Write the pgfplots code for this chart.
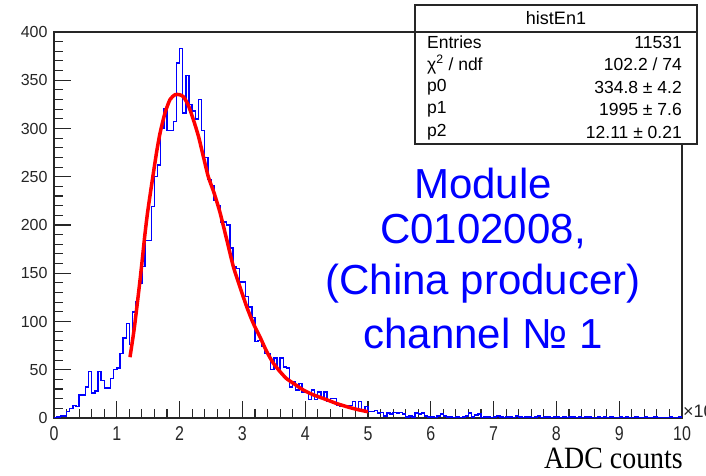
\documentclass[border=0pt]{standalone}
\usepackage{pgfplots}
\pgfplotsset{compat=1.18}
\usepackage{fontspec}
\setmainfont{Liberation Sans}
\newfontfamily\serifA[FakeStretch=0.9]{Liberation Serif}
\newfontfamily\narrowA[FakeStretch=0.8]{Liberation Sans}
\begin{document}
\begin{tikzpicture}[x=1pt,y=1pt]
\begin{axis}[
  at={(54pt,58pt)}, anchor=south west,
  scale only axis, width=628pt, height=386pt,
  xmin=0, xmax=10, ymin=0, ymax=400,
  xtick={0,1,...,10}, ytick={0,50,...,400},
  minor x tick num=4, minor y tick num=4,
  tick align=inside, xtick pos=bottom, ytick pos=left,
  major tick length=17pt, minor tick length=8.5pt,
  axis line style={black!85, line width=1.2pt},
  tick style={black!85, line width=1.1pt},
  /pgf/number format/assume math mode=true,
  scaled x ticks=false, scaled y ticks=false,
  xticklabel style={font=\narrowA\fontsize{20}{20}\selectfont, text=black!85, yshift=-5pt},
  yticklabel style={font=\fontsize{16}{16}\selectfont, text=black!85, xshift=-3pt},
  clip=true,
]
\addplot[blue, line width=1.4pt, const plot mark left] table {
0.00 0
0.05 1
0.10 2
0.15 2
0.20 7
0.25 10
0.30 13
0.35 12
0.40 24
0.45 24
0.50 32
0.55 48
0.60 26
0.65 28
0.70 48
0.75 39
0.80 31
0.85 31
0.90 41
0.95 50
1.00 52
1.05 67
1.10 83
1.15 98
1.20 76
1.25 110
1.30 120
1.35 140
1.40 157
1.45 184
1.50 184
1.55 219
1.60 250
1.65 262
1.70 300
1.75 321
1.80 298
1.85 298
1.90 307
1.95 368
2.00 383
2.05 316
2.10 355
2.15 325
2.20 318
2.25 310
2.30 330
2.35 298
2.40 270
2.45 247
2.50 241
2.55 226
2.60 220
2.65 203
2.70 203
2.75 200
2.80 176
2.85 157
2.90 155
2.95 141
3.00 141
3.05 126
3.10 115
3.15 104
3.20 79
3.25 80
3.30 74
3.35 67
3.40 67
3.45 50
3.50 62
3.55 50
3.60 62
3.65 53
3.70 52
3.75 32
3.80 38
3.85 29
3.90 36
3.95 27
4.00 27
4.05 19
4.10 29
4.15 19
4.20 27
4.25 20
4.30 27
4.35 17
4.40 20
4.45 20
4.50 13
4.55 12
4.60 12
4.65 13
4.70 13
4.75 17
4.80 8
4.85 17
4.90 8
4.95 12
5.00 7
5.05 7
5.10 8
5.15 5
5.20 6
5.25 2
5.30 5
5.35 4
5.40 6
5.45 5
5.50 6
5.55 4
5.60 1
5.65 2
5.70 1
5.75 5
5.80 4
5.85 5
5.90 2
5.95 1
6.00 1
6.05 0
6.10 2
6.15 4
6.20 2
6.25 1
6.30 1
6.35 0
6.40 1
6.45 0
6.50 1
6.55 2
6.60 5
6.65 1
6.70 3
6.75 4
6.80 0
6.85 1
6.90 1
6.95 0
7.00 1
7.05 2
7.10 1
7.15 0
7.20 1
7.25 1
7.30 0
7.35 2
7.40 1
7.45 0
7.50 1
7.55 1
7.60 0
7.65 1
7.70 2
7.75 0
7.80 1
7.85 1
7.90 0
7.95 1
8.00 1
8.05 0
8.10 1
8.15 0
8.20 1
8.25 1
8.30 0
8.35 1
8.40 0
8.45 1
8.50 1
8.55 0
8.60 0
8.65 1
8.70 0
8.75 1
8.80 0
8.85 1
8.90 0
8.95 0
9.00 1
9.05 0
9.10 1
9.15 0
9.20 0
9.25 1
9.30 0
9.35 0
9.40 1
9.45 0
9.50 0
9.55 1
9.60 0
9.65 0
9.70 0
9.75 0
9.80 1
9.85 0
9.90 0
9.95 1
10.00 1
};
\addplot[red, line width=3.5pt, smooth, tension=0.4] table {
1.21 63
1.274 91
1.327 119
1.37 143
1.407 165
1.444 188
1.486 211
1.539 235
1.59 257
1.635 276
1.688 295
1.767 316
1.847 330
1.927 335
1.996 335
2.06 333
2.139 324
2.22 309
2.30 292
2.378 271
2.457 250
2.55 233
2.643 213
2.75 185
2.855 157
2.96 136
3.07 115
3.174 98
3.28 84
3.386 69
3.49 57
3.60 48
3.70 41
3.81 36
3.97 29
4.13 24
4.34 19
4.50 15
4.70 11
4.85 8.5
5.00 6.5
};
\end{axis}
% stats box
\draw[black!85, fill=white, line width=1.2pt] (415,471) rectangle (697,332);
\draw[black!85, line width=1.2pt] (415,444) -- (697,444);
\node[font=\fontsize{18}{18}\selectfont] at (556,458) {histEn1};
\begin{scope}[every node/.style={font=\fontsize{17.5}{17.5}\selectfont, inner sep=0pt}]
\node[anchor=west] at (427,434) {Entries};
\node[anchor=east] at (682,434) {11531};
\node[anchor=west] at (427,411.5) {χ\textsuperscript{2} / ndf};
\node[anchor=east] at (682,411.5) {102.2 / 74};
\node[anchor=west] at (427,389) {p0};
\node[anchor=east] at (682,389) {334.8 ± 4.2};
\node[anchor=west] at (427,366.5) {p1};
\node[anchor=east] at (682,366.5) {1995 ± 7.6};
\node[anchor=west] at (427,344) {p2};
\node[anchor=east] at (682,344) {12.11 ± 0.21};
\end{scope}
% annotation
\begin{scope}[every node/.style={font=\fontsize{42}{42}\selectfont, text=blue, inner sep=0pt}]
\node at (483,293) {Module};
\node at (483,244) {C0102008,};
\node at (483,192) {(China producer)};
\node at (483,143) {channel № 1};
\end{scope}
\node[anchor=base east, font=\serifA\fontsize{31}{31}\selectfont, inner sep=0pt] at (683,8) {ADC counts};
\node[anchor=west, font=\fontsize{18}{18}\selectfont, text=black!85, inner sep=0pt] at (683,66) {×10\textsuperscript{3}};
\pgfresetboundingbox
\useasboundingbox (0,0) rectangle (706,476);
\end{tikzpicture}
\end{document}
